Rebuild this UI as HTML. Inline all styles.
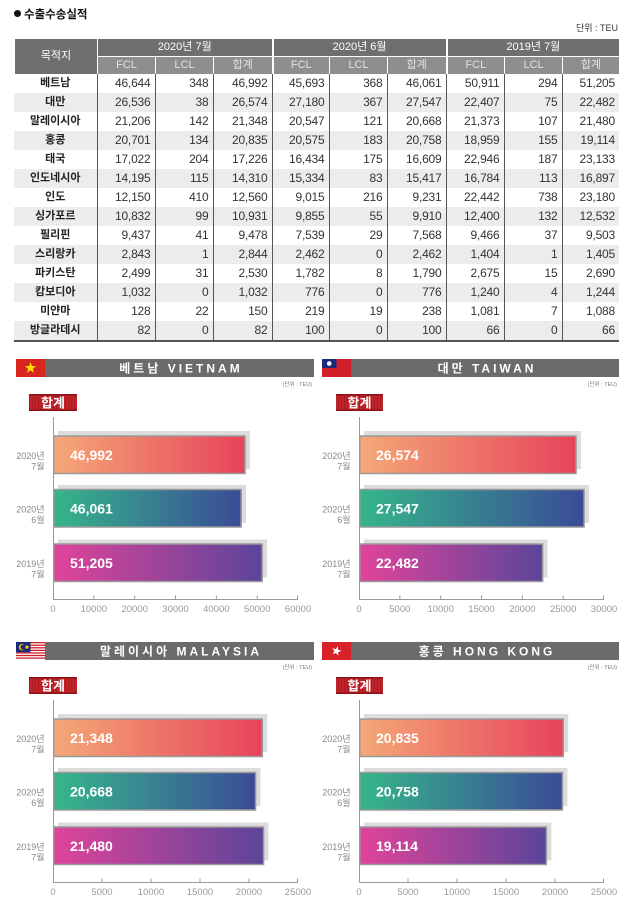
<!DOCTYPE html>
<html><head><meta charset="utf-8">
<style>
*{margin:0;padding:0;box-sizing:border-box}
body{width:625px;height:901px;background:#fff;position:relative;overflow:hidden;font-family:"Liberation Sans","Noto Sans CJK KR",sans-serif}
.ttl{position:absolute;left:14px;top:8px;font-size:11.5px;font-weight:bold;color:#111;line-height:15px}
.ttl i{display:inline-block;width:7px;height:7px;border-radius:50%;background:#111;margin-right:3px;vertical-align:1px}
.unit{position:absolute;right:7px;top:22px;font-size:9px;color:#333;line-height:12px}
table{position:absolute;left:14px;width:605px;border-collapse:collapse;table-layout:fixed}
.h{top:38px}
.h td{background:#6f6f6f;color:#fff;text-align:center;font-size:11px;height:18px;line-height:17px;border:1px solid #fff;padding:0;white-space:nowrap}
.h tr.s td{background:#8e8e8e;color:#e2e2e2}
.h td.g{border-left:2px solid #fff}
.t{top:74px}
.t td{height:19px;line-height:19px;padding:0 4px 0 0;text-align:right;font-size:12px;letter-spacing:-0.2px;color:#333;border-left:1px solid #555;white-space:nowrap;overflow:hidden}
.t td:first-child{border-left:none;text-align:center;font-weight:bold;font-size:11px;padding:0;color:#222;letter-spacing:0}
.t tr:nth-child(even) td{background:#ececec}
.bl{position:absolute;left:14px;top:340px;width:605px;height:2px;background:#555}
svg{position:absolute;left:0;top:0}
</style></head><body>
<div class="ttl"><i></i>수출수송실적</div>
<div class="unit">단위 : TEU</div>
<table class="h">
<colgroup><col style="width:83px"><col style="width:58px"><col style="width:58px"><col style="width:59px"><col style="width:57px"><col style="width:58px"><col style="width:59px"><col style="width:58px"><col style="width:58px"><col style="width:57px"></colgroup>
<tr><td rowspan="2">목적지</td><td colspan="3">2020년 7월</td><td colspan="3" class="g">2020년 6월</td><td colspan="3" class="g">2019년 7월</td></tr>
<tr class="s"><td>FCL</td><td>LCL</td><td>합계</td><td class="g">FCL</td><td>LCL</td><td>합계</td><td class="g">FCL</td><td>LCL</td><td>합계</td></tr>
</table>
<table class="t">
<colgroup><col style="width:83px"><col style="width:58px"><col style="width:58px"><col style="width:59px"><col style="width:57px"><col style="width:58px"><col style="width:59px"><col style="width:58px"><col style="width:58px"><col style="width:57px"></colgroup>
<tr><td>베트남</td><td>46,644</td><td>348</td><td>46,992</td><td>45,693</td><td>368</td><td>46,061</td><td>50,911</td><td>294</td><td>51,205</td></tr>
<tr><td>대만</td><td>26,536</td><td>38</td><td>26,574</td><td>27,180</td><td>367</td><td>27,547</td><td>22,407</td><td>75</td><td>22,482</td></tr>
<tr><td>말레이시아</td><td>21,206</td><td>142</td><td>21,348</td><td>20,547</td><td>121</td><td>20,668</td><td>21,373</td><td>107</td><td>21,480</td></tr>
<tr><td>홍콩</td><td>20,701</td><td>134</td><td>20,835</td><td>20,575</td><td>183</td><td>20,758</td><td>18,959</td><td>155</td><td>19,114</td></tr>
<tr><td>태국</td><td>17,022</td><td>204</td><td>17,226</td><td>16,434</td><td>175</td><td>16,609</td><td>22,946</td><td>187</td><td>23,133</td></tr>
<tr><td>인도네시아</td><td>14,195</td><td>115</td><td>14,310</td><td>15,334</td><td>83</td><td>15,417</td><td>16,784</td><td>113</td><td>16,897</td></tr>
<tr><td>인도</td><td>12,150</td><td>410</td><td>12,560</td><td>9,015</td><td>216</td><td>9,231</td><td>22,442</td><td>738</td><td>23,180</td></tr>
<tr><td>싱가포르</td><td>10,832</td><td>99</td><td>10,931</td><td>9,855</td><td>55</td><td>9,910</td><td>12,400</td><td>132</td><td>12,532</td></tr>
<tr><td>필리핀</td><td>9,437</td><td>41</td><td>9,478</td><td>7,539</td><td>29</td><td>7,568</td><td>9,466</td><td>37</td><td>9,503</td></tr>
<tr><td>스리랑카</td><td>2,843</td><td>1</td><td>2,844</td><td>2,462</td><td>0</td><td>2,462</td><td>1,404</td><td>1</td><td>1,405</td></tr>
<tr><td>파키스탄</td><td>2,499</td><td>31</td><td>2,530</td><td>1,782</td><td>8</td><td>1,790</td><td>2,675</td><td>15</td><td>2,690</td></tr>
<tr><td>캄보디아</td><td>1,032</td><td>0</td><td>1,032</td><td>776</td><td>0</td><td>776</td><td>1,240</td><td>4</td><td>1,244</td></tr>
<tr><td>미얀마</td><td>128</td><td>22</td><td>150</td><td>219</td><td>19</td><td>238</td><td>1,081</td><td>7</td><td>1,088</td></tr>
<tr><td>방글라데시</td><td>82</td><td>0</td><td>82</td><td>100</td><td>0</td><td>100</td><td>66</td><td>0</td><td>66</td></tr>
</table>
<div class="bl"></div>

<svg width="625" height="901" viewBox="0 0 625 901" xmlns="http://www.w3.org/2000/svg">
<defs>
<linearGradient id="g1" x1="0" x2="1" y1="0" y2="0"><stop offset="0" stop-color="#f4a877"/><stop offset="1" stop-color="#e7435b"/></linearGradient>
<linearGradient id="g2" x1="0" x2="1" y1="0" y2="0"><stop offset="0" stop-color="#35b68a"/><stop offset="1" stop-color="#3a4b97"/></linearGradient>
<linearGradient id="g3" x1="0" x2="1" y1="0" y2="0"><stop offset="0" stop-color="#e0449a"/><stop offset="1" stop-color="#5b459a"/></linearGradient>
<pattern id="st" width="3" height="20" patternUnits="userSpaceOnUse"><rect width="1" height="20" fill="#8e1418" opacity="0.45"/></pattern>
<style>
.bt{font:bold 12px "Liberation Sans","Noto Sans CJK KR",sans-serif;fill:#fff;letter-spacing:3px;text-anchor:middle}
.un{font:5.5px "Liberation Sans","Noto Sans CJK KR",sans-serif;fill:#777;text-anchor:end}
.bd{font:bold 13px "Liberation Sans","Noto Sans CJK KR",sans-serif;fill:#fff;text-anchor:middle}
.tk{font:9.5px "Liberation Sans",sans-serif;fill:#999;text-anchor:middle}
.yl{font:9px "Liberation Sans","Noto Sans CJK KR",sans-serif;fill:#888;text-anchor:end}
.bv{font:bold 14px "Liberation Sans",sans-serif;fill:#fff}
.ax{stroke:#9a9a9a;stroke-width:1;fill:none}
</style>
</defs>

<!-- Panel 1: Vietnam -->
<g transform="translate(53,0)">
<rect x="-37" y="359" width="29" height="18" fill="#d8261f"/>
<polygon transform="translate(-22.5,368)" points="0,-6 1.41,-1.94 5.71,-1.85 2.28,0.74 3.53,4.85 0,2.4 -3.53,4.85 -2.28,0.74 -5.71,-1.85 -1.41,-1.94" fill="#ffdc00"/>
<rect x="-8" y="359" width="269" height="18" fill="#6b6b6b"/>
<text x="128" y="372.5" class="bt">베트남 VIETNAM</text>
<text x="259" y="386" class="un">(단위 : TEU)</text>
<rect x="-24" y="394" width="48" height="17" fill="#c0242a"/>
<rect x="-24" y="394" width="48" height="17" fill="url(#st)"/>
<rect x="-24" y="394" width="48" height="1.5" fill="#8a1217"/>
<rect x="-24" y="409.5" width="48" height="1.5" fill="#8a1217"/>
<text x="0" y="407.5" class="bd">합계</text>
<path class="ax" d="M0.5 417V600M0 599.5H245M40.83 595.5V600M81.67 595.5V600M122.5 595.5V600M163.33 595.5V600M204.17 595.5V600M244.5 595.5V600"/>
<text x="0" y="612" class="tk">0</text><text x="40.83" y="612" class="tk">10000</text><text x="81.67" y="612" class="tk">20000</text><text x="122.5" y="612" class="tk">30000</text><text x="163.33" y="612" class="tk">40000</text><text x="204.17" y="612" class="tk">50000</text><text x="245" y="612" class="tk">60000</text>
<rect x="5" y="431" width="192" height="38" fill="#dcdcdc"/>
<rect x="0.75" y="436" width="191.2" height="37.5" fill="url(#g1)" stroke="#999" stroke-width="1.5"/>
<text x="17" y="460" class="bv">46,992</text>
<text x="-8.5" y="459" class="yl">2020년</text><text x="-8.5" y="469.5" class="yl">7월</text>
<rect x="5" y="485" width="188" height="38" fill="#dcdcdc"/>
<rect x="0.75" y="489.5" width="187.4" height="37.5" fill="url(#g2)" stroke="#999" stroke-width="1.5"/>
<text x="17" y="513.5" class="bv">46,061</text>
<text x="-8.5" y="512.5" class="yl">2020년</text><text x="-8.5" y="523" class="yl">6월</text>
<rect x="5" y="539.5" width="209" height="38" fill="#dcdcdc"/>
<rect x="0.75" y="544" width="208.4" height="37.5" fill="url(#g3)" stroke="#999" stroke-width="1.5"/>
<text x="17" y="568" class="bv">51,205</text>
<text x="-8.5" y="567" class="yl">2019년</text><text x="-8.5" y="577.5" class="yl">7월</text>
</g>

<!-- Panel 2: Taiwan -->
<g transform="translate(359,0)">
<rect x="-37" y="359" width="29" height="18" fill="#d2202a"/>
<rect x="-37" y="359" width="14.5" height="9" fill="#1c2a7c"/>
<circle cx="-29.75" cy="363.5" r="2.3" fill="#fff"/>
<rect x="-8" y="359" width="268" height="18" fill="#6b6b6b"/>
<text x="128" y="372.5" class="bt">대만 TAIWAN</text>
<text x="258" y="386" class="un">(단위 : TEU)</text>
<rect x="-23" y="394" width="47" height="17" fill="#c0242a"/>
<rect x="-23" y="394" width="47" height="17" fill="url(#st)"/>
<rect x="-23" y="394" width="47" height="1.5" fill="#8a1217"/>
<rect x="-23" y="409.5" width="47" height="1.5" fill="#8a1217"/>
<text x="0.5" y="407.5" class="bd">합계</text>
<path class="ax" d="M0.5 417V600M0 599.5H245M40.83 595.5V600M81.67 595.5V600M122.5 595.5V600M163.33 595.5V600M204.17 595.5V600M244.5 595.5V600"/>
<text x="0" y="612" class="tk">0</text><text x="40.83" y="612" class="tk">5000</text><text x="81.67" y="612" class="tk">10000</text><text x="122.5" y="612" class="tk">15000</text><text x="163.33" y="612" class="tk">20000</text><text x="204.17" y="612" class="tk">25000</text><text x="245" y="612" class="tk">30000</text>
<rect x="5" y="431" width="217" height="38" fill="#dcdcdc"/>
<rect x="0.75" y="436" width="216.3" height="37.5" fill="url(#g1)" stroke="#999" stroke-width="1.5"/>
<text x="17" y="460" class="bv">26,574</text>
<text x="-8.5" y="459" class="yl">2020년</text><text x="-8.5" y="469.5" class="yl">7월</text>
<rect x="5" y="485" width="225" height="38" fill="#dcdcdc"/>
<rect x="0.75" y="489.5" width="224.3" height="37.5" fill="url(#g2)" stroke="#999" stroke-width="1.5"/>
<text x="17" y="513.5" class="bv">27,547</text>
<text x="-8.5" y="512.5" class="yl">2020년</text><text x="-8.5" y="523" class="yl">6월</text>
<rect x="5" y="539.5" width="183.6" height="38" fill="#dcdcdc"/>
<rect x="0.75" y="544" width="182.9" height="37.5" fill="url(#g3)" stroke="#999" stroke-width="1.5"/>
<text x="17" y="568" class="bv">22,482</text>
<text x="-8.5" y="567" class="yl">2019년</text><text x="-8.5" y="577.5" class="yl">7월</text>
</g>

<!-- Panel 3: Malaysia -->
<g transform="translate(53,283)">
<rect x="-37" y="359" width="29" height="18" fill="#fff"/>
<rect x="-37" y="359" width="29" height="1.29" fill="#cc1f2a"/>
<rect x="-37" y="361.57" width="29" height="1.29" fill="#cc1f2a"/>
<rect x="-37" y="364.14" width="29" height="1.29" fill="#cc1f2a"/>
<rect x="-37" y="366.71" width="29" height="1.29" fill="#cc1f2a"/>
<rect x="-37" y="369.29" width="29" height="1.29" fill="#cc1f2a"/>
<rect x="-37" y="371.86" width="29" height="1.29" fill="#cc1f2a"/>
<rect x="-37" y="374.43" width="29" height="1.29" fill="#cc1f2a"/>
<rect x="-37" y="359" width="14.5" height="10.3" fill="#1a2b78"/>
<circle cx="-31" cy="364.1" r="3.2" fill="#ffcc00"/>
<circle cx="-30" cy="364.1" r="2.6" fill="#1a2b78"/>
<circle cx="-26" cy="364.1" r="1.6" fill="#ffcc00"/>
<rect x="-8" y="359" width="269" height="18" fill="#6b6b6b"/>
<text x="128" y="372.5" class="bt">말레이시아 MALAYSIA</text>
<text x="259" y="386" class="un">(단위 : TEU)</text>
<rect x="-24" y="394" width="48" height="17" fill="#c0242a"/>
<rect x="-24" y="394" width="48" height="17" fill="url(#st)"/>
<rect x="-24" y="394" width="48" height="1.5" fill="#8a1217"/>
<rect x="-24" y="409.5" width="48" height="1.5" fill="#8a1217"/>
<text x="0" y="407.5" class="bd">합계</text>
<path class="ax" d="M0.5 417V600M0 599.5H245M49 595.5V600M98 595.5V600M147 595.5V600M196 595.5V600M244.5 595.5V600"/>
<text x="0" y="612" class="tk">0</text><text x="49" y="612" class="tk">5000</text><text x="98" y="612" class="tk">10000</text><text x="147" y="612" class="tk">15000</text><text x="196" y="612" class="tk">20000</text><text x="245" y="612" class="tk">25000</text>
<rect x="5" y="431" width="209.2" height="38" fill="#dcdcdc"/>
<rect x="0.75" y="436" width="208.5" height="37.5" fill="url(#g1)" stroke="#999" stroke-width="1.5"/>
<text x="17" y="460" class="bv">21,348</text>
<text x="-8.5" y="459" class="yl">2020년</text><text x="-8.5" y="469.5" class="yl">7월</text>
<rect x="5" y="485" width="202.5" height="38" fill="#dcdcdc"/>
<rect x="0.75" y="489.5" width="201.8" height="37.5" fill="url(#g2)" stroke="#999" stroke-width="1.5"/>
<text x="17" y="513.5" class="bv">20,668</text>
<text x="-8.5" y="512.5" class="yl">2020년</text><text x="-8.5" y="523" class="yl">6월</text>
<rect x="5" y="539.5" width="210.5" height="38" fill="#dcdcdc"/>
<rect x="0.75" y="544" width="209.8" height="37.5" fill="url(#g3)" stroke="#999" stroke-width="1.5"/>
<text x="17" y="568" class="bv">21,480</text>
<text x="-8.5" y="567" class="yl">2019년</text><text x="-8.5" y="577.5" class="yl">7월</text>
</g>

<!-- Panel 4: Hong Kong -->
<g transform="translate(359,283)">
<rect x="-37" y="359" width="29" height="18" fill="#d8222a"/>
<polygon transform="translate(-22.5,368) scale(0.85) rotate(15)" points="0,-6 1.41,-1.94 5.71,-1.85 2.28,0.74 3.53,4.85 0,2.4 -3.53,4.85 -2.28,0.74 -5.71,-1.85 -1.41,-1.94" fill="#fff"/>
<rect x="-8" y="359" width="268" height="18" fill="#6b6b6b"/>
<text x="128" y="372.5" class="bt">홍콩 HONG KONG</text>
<text x="258" y="386" class="un">(단위 : TEU)</text>
<rect x="-23" y="394" width="47" height="17" fill="#c0242a"/>
<rect x="-23" y="394" width="47" height="17" fill="url(#st)"/>
<rect x="-23" y="394" width="47" height="1.5" fill="#8a1217"/>
<rect x="-23" y="409.5" width="47" height="1.5" fill="#8a1217"/>
<text x="0.5" y="407.5" class="bd">합계</text>
<path class="ax" d="M0.5 417V600M0 599.5H245M49 595.5V600M98 595.5V600M147 595.5V600M196 595.5V600M244.5 595.5V600"/>
<text x="0" y="612" class="tk">0</text><text x="49" y="612" class="tk">5000</text><text x="98" y="612" class="tk">10000</text><text x="147" y="612" class="tk">15000</text><text x="196" y="612" class="tk">20000</text><text x="245" y="612" class="tk">25000</text>
<rect x="5" y="431" width="204.2" height="38" fill="#dcdcdc"/>
<rect x="0.75" y="436" width="203.5" height="37.5" fill="url(#g1)" stroke="#999" stroke-width="1.5"/>
<text x="17" y="460" class="bv">20,835</text>
<text x="-8.5" y="459" class="yl">2020년</text><text x="-8.5" y="469.5" class="yl">7월</text>
<rect x="5" y="485" width="203.4" height="38" fill="#dcdcdc"/>
<rect x="0.75" y="489.5" width="202.7" height="37.5" fill="url(#g2)" stroke="#999" stroke-width="1.5"/>
<text x="17" y="513.5" class="bv">20,758</text>
<text x="-8.5" y="512.5" class="yl">2020년</text><text x="-8.5" y="523" class="yl">6월</text>
<rect x="5" y="539.5" width="187.3" height="38" fill="#dcdcdc"/>
<rect x="0.75" y="544" width="186.6" height="37.5" fill="url(#g3)" stroke="#999" stroke-width="1.5"/>
<text x="17" y="568" class="bv">19,114</text>
<text x="-8.5" y="567" class="yl">2019년</text><text x="-8.5" y="577.5" class="yl">7월</text>
</g>
</svg>
</body></html>
